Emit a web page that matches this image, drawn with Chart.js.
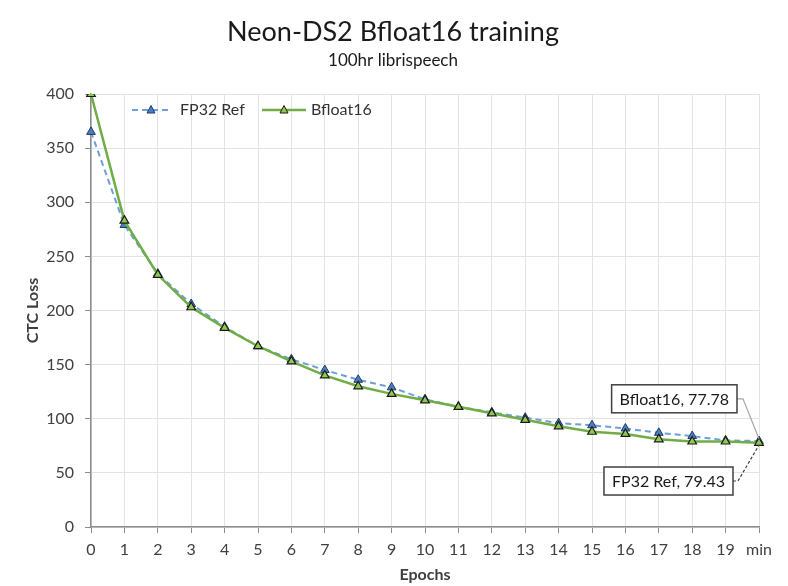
<!DOCTYPE html>
<html>
<head>
<meta charset="utf-8">
<script src="https://cdn.jsdelivr.net/npm/chart.js@4"></script>
<style>
html,body{margin:0;padding:0;background:#fff;}
canvas{display:block;}
</style>
</head>
<body>
<canvas id="c" width="788" height="586"></canvas>
<script>
const categories = ['0','1','2','3','4','5','6','7','8','9','10','11','12','13','14','15','16','17','18','19','min'];
const fp32Values = [365, 279, 234, 206, 185, 167, 155, 145, 136, 129, 118, 111, 106, 101, 96, 94, 91, 87, 84, 80, 79.43];
const bf16Values = [400, 283, 233, 203, 184, 167, 153, 140, 130, 123, 117, 111, 105, 99, 93, 88, 86, 81, 79, 79, 77.78];
const yTicks = [0, 50, 100, 150, 200, 250, 300, 350, 400];
const titleText = 'Neon-DS2 Bfloat16 training';
const subtitleText = '100hr librispeech';
const FONT = 'Lato, "Open Sans", sans-serif';

const overlay = {
  id: 'overlay',
  afterDraw(chart) {
    const ctx = chart.ctx;
    const xs = chart.scales.x, ys = chart.scales.y;
    ctx.save();
    // titles
    ctx.fillStyle = '#1a1a1a';
    ctx.textAlign = 'center';
    ctx.textBaseline = 'middle';
    ctx.font = '27px ' + FONT;
    ctx.fillText(titleText, 393, 32);
    ctx.font = '17px ' + FONT;
    ctx.fillText(subtitleText, 393, 61);

    // legend
    const ds = chart.data.datasets;
    const legendItems = [
      {d: ds[0], x0: 132, x1: 170, tx: 180},
      {d: ds[1], x0: 262, x1: 306, tx: 311}
    ];
    ctx.font = '16px ' + FONT;
    ctx.textAlign = 'left';
    legendItems.forEach(it => {
      const y = 110;
      ctx.beginPath();
      ctx.strokeStyle = it.d.borderColor;
      ctx.lineWidth = it.d.borderWidth;
      ctx.setLineDash(it.d.borderDash || []);
      ctx.moveTo(it.x0, y); ctx.lineTo(it.x1, y); ctx.stroke();
      ctx.setLineDash([]);
      ctx.fillStyle = it.d.pointBackgroundColor;
      ctx.strokeStyle = it.d.pointBorderColor;
      ctx.lineWidth = 1;
      ctx.beginPath();
      const cx = (it.x0 + it.x1) / 2;
      ctx.moveTo(cx, y - 4.5); ctx.lineTo(cx + 4, y + 3); ctx.lineTo(cx - 4, y + 3); ctx.closePath();
      ctx.fill(); ctx.stroke();
      ctx.fillStyle = '#333';
      ctx.fillText(it.d.label, it.tx, y);
    });

    // data callouts at last category
    const last = categories.length - 1;
    const px = xs.getPixelForValue(last);
    const callouts = [
      {d: ds[1], dy: -44, rightGap: 22, dash: [], color: '#a6a6a6', elbow: [6, 0]},
      {d: ds[0], dy: 40, rightGap: 26, dash: [3, 2], color: '#404040', elbow: [5, 0]}
    ];
    ctx.font = '16px ' + FONT;
    callouts.forEach(c => {
      const val = c.d.data[last];
      const py = ys.getPixelForValue(val);
      const txt = c.d.label + ', ' + val.toFixed(2);
      const w = ctx.measureText(txt).width + 16;
      const h = 28;
      const bx = px - c.rightGap - w;
      const by = py + c.dy - h / 2;
      // leader
      ctx.beginPath();
      ctx.strokeStyle = c.color;
      ctx.lineWidth = 1.2;
      ctx.setLineDash(c.dash);
      const ly = py + c.dy;
      ctx.moveTo(bx + w, ly);
      ctx.lineTo(bx + w + c.elbow[0], ly);
      ctx.lineTo(px, py + (c.dy < 0 ? -4 : 4));
      ctx.stroke();
      ctx.setLineDash([]);
      // box
      ctx.fillStyle = '#fff';
      ctx.fillRect(bx, by, w, h);
      ctx.strokeStyle = '#404040';
      ctx.lineWidth = 1.5;
      ctx.strokeRect(bx, by, w, h);
      ctx.fillStyle = '#1a1a1a';
      ctx.textAlign = 'center';
      ctx.textBaseline = 'middle';
      ctx.fillText(txt, bx + w / 2, by + h / 2 + 1);
    });
    ctx.restore();
  }
};

new Chart(document.getElementById('c'), {
  type: 'line',
  data: {
    labels: categories,
    datasets: [
      {
        label: 'FP32 Ref',
        data: fp32Values,
        borderColor: '#6f9fd8',
        borderWidth: 2,
        borderDash: [6, 4],
        pointStyle: 'triangle',
        pointRadius: 5,
        pointBackgroundColor: '#4a7fc0',
        pointBorderColor: '#1f3864',
        pointBorderWidth: 1,
        tension: 0,
        order: 2
      },
      {
        label: 'Bfloat16',
        data: bf16Values,
        borderColor: '#70ad47',
        borderWidth: 2.5,
        pointStyle: 'triangle',
        pointRadius: 5,
        pointBackgroundColor: '#92c84f',
        pointBorderColor: '#1a1a1a',
        pointBorderWidth: 1.2,
        tension: 0,
        order: 1
      }
    ]
  },
  options: {
    responsive: false,
    animation: false,
    layout: {padding: {top: 94, right: 29, left: 0, bottom: 0}},
    plugins: {
      legend: {display: false},
      title: {display: false},
      tooltip: {enabled: false}
    },
    scales: {
      x: {
        offset: false,
        grid: {color: '#e3e3e3', lineWidth: 1, tickLength: 6, tickColor: '#8c8c8c', drawOnChartArea: true},
        border: {color: '#8c8c8c', width: 1.5},
        ticks: {color: '#404040', font: {family: FONT, size: 16}, padding: 7, maxRotation: 0, autoSkip: false},
        title: {display: true, text: 'Epochs', color: '#404040', font: {family: FONT, size: 16, weight: 'bold'}, padding: {top: 0, bottom: 2}},
        afterFit(s) { s.height = 59; }
      },
      y: {
        min: 0, max: 400,
        afterBuildTicks(s) { s.ticks = yTicks.map(v => ({value: v})); },
        grid: {color: '#e3e3e3', lineWidth: 1, tickLength: 6, tickColor: '#8c8c8c'},
        border: {color: '#8c8c8c', width: 1.5},
        ticks: {color: '#404040', font: {family: FONT, size: 16}, padding: 11},
        title: {display: true, text: 'CTC Loss', color: '#404040', font: {family: FONT, size: 16, weight: 'bold'}, padding: {top: 23, bottom: 0}},
        afterFit(s) { s.width = 91; }
      }
    }
  },
  plugins: [overlay]
});
</script>
</body>
</html>
